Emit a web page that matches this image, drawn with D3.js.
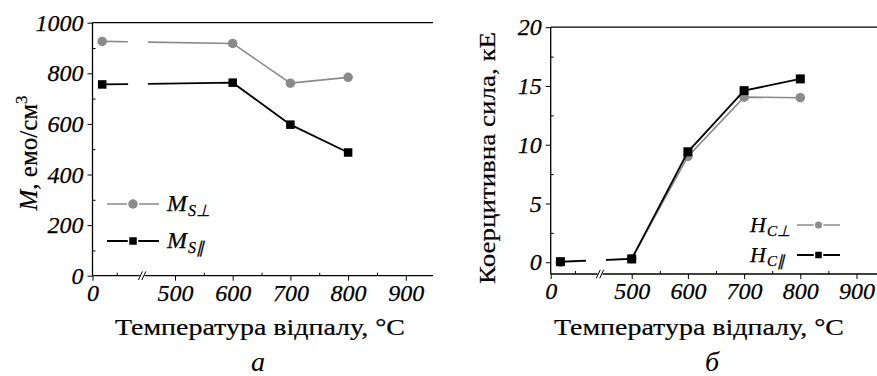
<!DOCTYPE html>
<html>
<head>
<meta charset="utf-8">
<script src="https://cdn.jsdelivr.net/npm/d3@7"></script>
<style>
  body { margin: 0; background: #fff; }
  svg { display: block; }
</style>
</head>
<body>
<svg id="chart" width="877" height="376"></svg>
<script>
// ---- data ----
const tempM = [20, 600, 700, 800];
const msPerp = [926, 918, 761, 784];
const msPar = [756, 763, 597, 487];

const tempH = [20, 500, 600, 700, 800];
const hcPerp = [0, 0.3, 9.0, 14.05, 14.0];
const hcPar = [0.05, 0.28, 9.4, 14.6, 15.6];

const xTicks = [0, 500, 600, 700, 800, 900];
const xMinor = [50, 550, 650, 750, 850, 950];
const mTicks = [0, 200, 400, 600, 800, 1000];
const mMinor = [100, 300, 500, 700, 900];
const hTicks = [0, 5, 10, 15, 20];
const hMinor = [2.5, 7.5, 12.5, 17.5];

const SERIF = "'Liberation Serif', serif";
const GRAY = "#8a8a8a", BLACK = "#000";
const svg = d3.select("#chart");
svg.append("rect").attr("width", 877).attr("height", 376).attr("fill", "#fff");

// piecewise x-scale with a break between 100 and 445
function makeX(o, p500, k, end) {
  return d3.scaleLinear()
    .domain([0, 100, 445, end])
    .range([o, o + 48.5, p500 - 0.55 * k, p500 + (end - 500) / 100 * k]);
}

function styleAxis(a) {
  a.attr("font-family", SERIF).attr("font-size", 24).attr("font-style", "italic");
  a.selectAll("text")
    .style("font-family", SERIF).style("font-style", "italic").style("font-size", "24px")
    .attr("fill", "#000").attr("stroke", "#000").attr("stroke-width", 0.25);
  a.selectAll("line").attr("stroke", "#000");
  a.select(".domain").remove();
}

function panel(cfg) {
  const x = makeX(cfg.o, cfg.p500, cfg.k, cfg.xEnd);
  const y = d3.scaleLinear().domain(cfg.yDomain).range([cfg.yBottom, cfg.yTop]);
  const g = svg.append("g");
  const x0 = x(0), x1 = x(cfg.xEnd), brk = (x(100) + x(445)) / 2;

  // x axis (major outward, minor inward)
  const xa = g.append("g").attr("transform", `translate(0,${cfg.yBottom})`)
    .call(d3.axisBottom(x).tickValues(xTicks).tickSize(5).tickPadding(3).tickFormat(d3.format("d")));
  styleAxis(xa);
  xa.selectAll("text").attr("dy", "0.72em");
  const xm = g.append("g").attr("transform", `translate(0,${cfg.yBottom})`)
    .call(d3.axisBottom(x).tickValues(xMinor.filter(v => x(v) <= x1)).tickSize(-3).tickFormat(""));
  styleAxis(xm);

  // axis lines with break
  const ax = g.append("g").attr("stroke", "#000").attr("stroke-width", 1.3).attr("fill", "none");
  ax.append("line").attr("x1", x0).attr("x2", brk - 2.5).attr("y1", cfg.yBottom).attr("y2", cfg.yBottom);
  ax.append("line").attr("x1", brk + 2.5).attr("x2", x1).attr("y1", cfg.yBottom).attr("y2", cfg.yBottom);
  [-1.7, 1.7].forEach(d => {
    ax.append("line").attr("x1", brk + d - 2).attr("y1", cfg.yBottom + 4.3)
      .attr("x2", brk + d + 2).attr("y2", cfg.yBottom - 4.3).attr("stroke-width", 1);
  });
  ax.append("line").attr("x1", x0).attr("x2", x0).attr("y1", cfg.yTop).attr("y2", cfg.yBottom);
  ax.append("line").attr("x1", x0).attr("x2", x1).attr("y1", cfg.yTop).attr("y2", cfg.yTop);

  // y axis
  const ya = g.append("g").attr("transform", `translate(${x0},0)`)
    .call(d3.axisLeft(y).tickValues(cfg.yTicks).tickSize(5).tickPadding(4).tickFormat(d3.format("d")));
  styleAxis(ya);
  const ym = g.append("g").attr("transform", `translate(${x0},0)`)
    .call(d3.axisLeft(y).tickValues(cfg.yMinor).tickSize(-3).tickFormat(""));
  styleAxis(ym);

  // series
  const line = d3.line();
  cfg.series.forEach(s => {
    const pts = s.xs.map((t, i) => [x(t), y(s.ys[i])]);
    const a = pts[0], b = pts[1];
    const at = px => [px, a[1] + (b[1] - a[1]) * (px - a[0]) / (b[0] - a[0])];
    const sg = g.append("g").attr("fill", "none").attr("stroke", s.color).attr("stroke-width", s.width);
    sg.append("path").attr("d", line([a, at(brk - 14)]));
    sg.append("path").attr("d", line([at(brk + 6), ...pts.slice(1)]));
    drawMarks(g, pts, s);
  });
  return { g, x, y };
}

function drawMarks(g, pts, s) {
  if (s.shape === "circle") {
    g.selectAll(null).data(pts).enter().append("circle")
      .attr("cx", d => d[0]).attr("cy", d => d[1]).attr("r", s.size / 2).attr("fill", s.color);
  } else {
    g.selectAll(null).data(pts).enter().append("rect")
      .attr("x", d => d[0] - s.size / 2).attr("y", d => d[1] - s.size / 2)
      .attr("width", s.size).attr("height", s.size).attr("fill", s.color);
  }
}

// ---- panel a ----
const pa = panel({
  o: 92.5, p500: 175, k: 57.7, xEnd: 947,
  yDomain: [0, 1000], yTop: 22.7, yBottom: 275.7,
  yTicks: mTicks, yMinor: mMinor,
  series: [
    { xs: tempM, ys: msPerp, color: GRAY, width: 1.6, shape: "circle", size: 9.5 },
    { xs: tempM, ys: msPar, color: BLACK, width: 1.8, shape: "rect", size: 8.5 }
  ]
});

// ---- panel б ----
const pb = panel({
  o: 550.7, p500: 631.7, k: 56.2, xEnd: 950,
  yDomain: [-1, 20], yTop: 27.2, yBottom: 274,
  yTicks: hTicks, yMinor: hMinor,
  series: [
    { xs: tempH, ys: hcPerp, color: GRAY, width: 1.6, shape: "circle", size: 9.5 },
    { xs: tempH, ys: hcPar, color: BLACK, width: 1.8, shape: "rect", size: 9 }
  ]
});

// ---- legends ----
function legendItem(g, lx0, lx1, ly, s, label, sub, tx, big, small) {
  g.append("line").attr("x1", lx0).attr("x2", lx1).attr("y1", ly).attr("y2", ly)
    .attr("stroke", s.color).attr("stroke-width", s.width);
  const cx = (lx0 + lx1) / 2;
  if (s.shape === "circle") {
    g.append("circle").attr("cx", cx).attr("cy", ly).attr("r", s.size / 2 + 1.5).attr("fill", "#fff");
  } else {
    g.append("rect").attr("x", cx - s.size / 2 - 1.5).attr("y", ly - s.size / 2 - 1.5)
      .attr("width", s.size + 3).attr("height", s.size + 3).attr("fill", "#fff");
  }
  drawMarks(g, [[cx, ly]], s);
  const t = g.append("text").attr("x", tx).attr("y", ly + big * 0.3)
    .attr("font-family", SERIF).attr("font-style", "italic").attr("font-size", big)
    .attr("stroke", "#000").attr("stroke-width", 0.25);
  t.append("tspan").text(label);
  t.append("tspan").attr("dy", big * 0.22).attr("dx", 1).attr("font-size", small).text(sub);
}

legendItem(pa.g, 107, 159, 204, { color: GRAY, width: 1.6, shape: "circle", size: 9.5 }, "M", "S\u22A5", 167, 24, 16);
legendItem(pa.g, 107, 159, 241, { color: BLACK, width: 1.8, shape: "rect", size: 7.5 }, "M", "S\u2225", 167, 24, 16);
legendItem(pb.g, 797, 840, 225, { color: GRAY, width: 1.6, shape: "circle", size: 7 }, "H", "C\u22A5", 750, 22, 15);
legendItem(pb.g, 797, 840, 255, { color: BLACK, width: 2, shape: "rect", size: 6.5 }, "H", "C\u2225", 750, 22, 15);

// ---- titles ----
function xTitle(cx, text) {
  svg.append("text").attr("x", cx).attr("y", 335)
    .attr("font-family", SERIF).attr("font-size", 23).attr("stroke", "#000").attr("stroke-width", 0.2)
    .attr("text-anchor", "middle").attr("textLength", 290).attr("lengthAdjust", "spacingAndGlyphs").text(text);
}
xTitle(260, "Температура відпалу, °С");
xTitle(699, "Температура відпалу, °С");

const yl = svg.append("text").attr("font-family", SERIF).attr("stroke", "#000").attr("stroke-width", 0.2)
  .attr("transform", "translate(37,153) rotate(-90)").attr("text-anchor", "middle").attr("font-size", 25);
yl.append("tspan").attr("font-style", "italic").text("M");
yl.append("tspan").text(", емо/см");
yl.append("tspan").attr("dy", -10).attr("font-size", 17).text("3");

svg.append("text").attr("font-family", SERIF).attr("stroke", "#000").attr("stroke-width", 0.2)
  .attr("transform", "translate(495,158) rotate(-90)").attr("text-anchor", "middle").attr("font-size", 23)
  .attr("textLength", 252).attr("lengthAdjust", "spacingAndGlyphs")
  .text("Коерцитивна сила, кЕ");

[["а", 258], ["б", 712]].forEach(([l, cx]) => {
  svg.append("text").attr("x", cx).attr("y", 371).attr("text-anchor", "middle")
    .attr("font-family", SERIF).attr("font-style", "italic").attr("font-size", 28).text(l);
});
</script>
</body>
</html>
